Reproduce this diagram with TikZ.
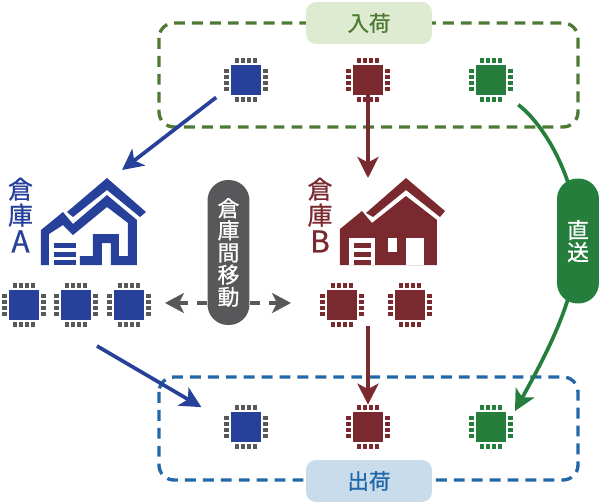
\documentclass[tikz,border=0pt]{standalone}
\usepackage{fontspec}
\setmainfont{Noto Sans CJK JP}[FakeBold=0.8]
\usetikzlibrary{arrows.meta}

\definecolor{cpublue}{HTML}{27409A}
\definecolor{cpured}{HTML}{7A2A2E}
\definecolor{cpugreen}{HTML}{257E3C}
\definecolor{pingray}{HTML}{58585A}
\definecolor{inline}{HTML}{4E7A35}
\definecolor{infill}{HTML}{DFEBD0}
\definecolor{outline}{HTML}{2268A8}
\definecolor{outfill}{HTML}{C9DCEC}

\newcommand{\cpu}[4]{%
	\node[cpubody, fill=#3] (#1) at (#2) {};
	\begin{scope}[shift={(#2)}]
		\foreach \p in {-9,-3,3,9} {
			\fill[#4] ({\p-1.6},-22) rectangle +(3.2,5);
			\fill[#4] ({\p-1.6},17) rectangle +(3.2,5);
			\fill[#4] (-22,{\p-1.6}) rectangle +(5,3.2);
			\fill[#4] (17,{\p-1.6}) rectangle +(5,3.2);
		}
	\end{scope}
}

\begin{document}
\begin{tikzpicture}[x=0.02cm, y=-0.02cm,
		cpubody/.style={minimum size=0.6cm, inner sep=0pt},
		tag/.style={minimum width=2.52cm, minimum height=0.84cm, rounded corners=0.2cm, inner sep=0pt, font=\fontsize{12.2}{14}\selectfont},
		capsule/.style={rounded corners=0.41cm, inner sep=0pt, minimum width=0.84cm, align=center, text=white, font=\fontsize{12.4}{12.6}\selectfont},
		side/.style={inner sep=0pt, align=center, font=\fontsize{14.2}{14.8}\selectfont},
		frame/.style={line width=1.9pt, rounded corners=0.3cm, dash pattern=on 6.2pt off 4pt},
		flow/.style={line width=2.1pt, -{Stealth[length=0.42cm, width=0.42cm, inset=0.11cm]}},
		swap/.style={line width=1.8pt, pingray, dash pattern=on 6pt off 5pt, -{Stealth[length=0.38cm, width=0.4cm, inset=0.1cm, sep=0pt]}}]
	\useasboundingbox (0,0) rectangle (600,504);
	%Frames
	\draw[frame, inline] (159,23) rectangle (578,127);
	\draw[frame, outline] (159,377) rectangle (578,480);
	\node[tag, fill=infill, text=inline] (arrival) at (369,23) {入荷};
	\node[tag, fill=outfill, text=outline] (shipping) at (369,481) {出荷};
	%Top row
	\cpu{inA}{246,80}{cpublue}{pingray}
	\cpu{inB}{368,80}{cpured}{cpured}
	\cpu{inG}{491,80}{cpugreen}{cpugreen}
	%Bottom row
	\cpu{outA}{246,427}{cpublue}{pingray}
	\cpu{outB}{368,427}{cpured}{cpured}
	\cpu{outG}{491,427}{cpugreen}{cpugreen}
	%Warehouse A
	\cpu{stockAa}{24,305}{cpublue}{pingray}
	\cpu{stockAb}{76,305}{cpublue}{pingray}
	\cpu{stockAc}{129,305}{cpublue}{pingray}
	\node[side, text=cpublue] (labelA) at (20.5,215) {倉\\庫\\[1pt]{\fontsize{17}{17}\selectfont A}};
	\fill[cpublue] (107,178) -- (146,212) -- (140,217) -- (107,190) -- (73,217) -- (67,212) -- cycle;
	\fill[cpublue] (41,230) -- (63,212) -- (73,224) -- (107,195) -- (137,220) -- (137,265) -- (111,265) -- (111,243) -- (102,243) -- (102,265) -- (80,265) -- (80,256) -- (93,256) -- (93,234) -- (119,234) -- (119,256) -- (128,256) -- (128,223) -- (107,207) -- (73,235) -- (63,225) -- (49,234) -- (49,265) -- (41,265) -- cycle;
	\foreach \y in {243,252,260} {
		\fill[cpublue] (54,\y) rectangle (76,{\y+5});
	}
	%Warehouse B
	\cpu{stockBa}{342,305}{cpured}{cpured}
	\cpu{stockBb}{410,305}{cpured}{cpured}
	\node[side, text=cpured] (labelB) at (320,215) {倉\\庫\\[1pt]{\fontsize{17}{17}\selectfont B}};
	\fill[cpured] (406,178) -- (445,211) -- (440,217) -- (406,190) -- (373,217) -- (366,213) -- cycle;
	\fill[cpured] (340,229) -- (362,211) -- (372,223) -- (406,196) -- (437,220) -- (437,265) -- (340,265) -- cycle;
	\fill[white] (349,238) rectangle (375,265);
	\fill[white] (388,238) rectangle (397,252);
	\fill[white] (406,238) rectangle (424,265);
	\foreach \y in {243,252,260} {
		\fill[cpured] (354,\y) rectangle (371,{\y+5});
	}
	%Free ends
	\coordinate (toA) at (122,170);
	\coordinate (toB) at (368,178);
	\coordinate (fromA) at (97,346);
	\coordinate (fromB) at (368,326);
	\coordinate (moveL) at (165,303);
	\coordinate (moveR) at (291,303);
	\node[capsule, fill=pingray, minimum height=2.9cm] (move) at (228.5,252.5) {倉\\庫\\間\\移\\動};
	\node[capsule, minimum height=2.5cm] (directpos) at (578,241) {};
	%Arrows
	\draw[flow, cpublue, shorten <=10.4pt] (inA.202) -- (toA);
	\draw[flow, cpured] (inB.south) -- (toB);
	\draw[flow, cpublue, shorten >=19.3pt] (fromA) -- (outA.170);
	\draw[flow, cpured, shorten >=4pt] (fromB) -- (outB.north);
	\draw[line width=2.1pt, cpugreen, shorten <=8.6pt] (inG.south east) .. controls (548,128) and (578,185) .. (directpos.center);
	\draw[flow, cpugreen, shorten >=10.3pt] (directpos.center) .. controls (578,300) and (540,365) .. (outG.east);
	\draw[swap] (move.west |- moveL) -- (moveL);
	\draw[swap] (move.east |- moveR) -- (moveR);
	\node[capsule, fill=cpugreen, minimum height=2.5cm] (direct) at (578,241) {直\\送};
\end{tikzpicture}
\end{document}
